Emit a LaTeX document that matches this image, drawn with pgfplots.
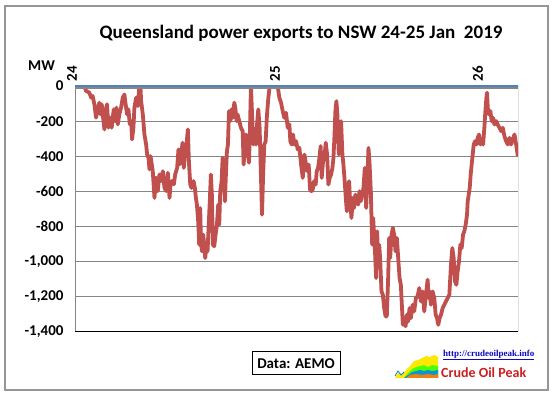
\documentclass[border=0pt]{standalone}
\usepackage{fontspec}
\setmainfont{Carlito}
\setmonofont{Liberation Serif}
\usepackage{pgfplots}
\pgfplotsset{compat=1.18}
\definecolor{linered}{RGB}{192,80,77}
\definecolor{gridgray}{RGB}{134,134,134}
\definecolor{axblue}{RGB}{79,129,189}
\definecolor{framegray}{RGB}{150,150,150}
\definecolor{logored}{RGB}{204,30,30}
\definecolor{urlblue}{RGB}{10,10,190}
\begin{document}
\begin{tikzpicture}[x=1pt,y=1pt]
\begin{axis}[
  name=ax, anchor=south west, scale only axis,
  width=443pt, height=246pt,
  xmin=0, xmax=52.4, ymin=-1400, ymax=0,
  xtick={0,24,48}, xticklabels={24,25,26}, xticklabel pos=right,
  xticklabel style={rotate=90, anchor=west, font=\fontsize{15}{16}\selectfont\bfseries, yshift=3pt, xshift=1pt},
  ytick={-1400,-1200,-1000,-800,-600,-400,-200,0},
  yticklabels={{-1,400},{-1,200},{-1,000},-800,-600,-400,-200,0},
  yticklabel style={anchor=east, font=\fontsize{15}{16}\selectfont\bfseries, xshift=-8pt},
  major tick length=0pt,
  ymajorgrids, grid style={gridgray, line width=1pt},
  axis line style={draw=none},
  clip=true,
]
\addplot[linered, line width=3.8pt, line join=round] table {
0 0
1.11 0
1.30 -28
1.70 -38
1.90 -66
2.09 -57
2.29 -104
2.49 -180
2.69 -133
2.88 -95
3.00 -161
3.16 -104
3.28 -161
3.48 -247
3.59 -142
3.79 -104
3.95 -237
4.15 -180
4.34 -237
4.58 -133
4.74 -200
4.90 -123
5.06 -218
5.25 -161
5.45 -123
5.65 -66
5.85 -48
5.96 -95
6.16 -161
6.32 -133
6.48 -218
6.64 -200
6.75 -304
6.91 -237
7.03 -123
7.23 -66
7.42 -114
7.62 0
7.74 0
7.82 -85
8.02 -161
8.21 -275
8.41 -332
8.53 -390
8.69 -408
8.81 -475
8.93 -399
9.08 -446
9.20 -485
9.40 -637
9.60 -522
9.79 -598
9.99 -503
10.19 -541
10.39 -485
10.58 -580
10.78 -598
10.98 -494
11.18 -637
11.30 -560
11.45 -541
11.69 -560
11.85 -503
12.08 -466
12.24 -361
12.40 -446
12.56 -390
12.72 -323
12.87 -466
13.03 -370
13.19 -332
13.35 -247
13.47 -428
13.63 -560
13.78 -580
14.02 -541
14.18 -580
14.30 -637
14.42 -675
14.57 -770
14.69 -903
14.81 -694
14.89 -865
15.01 -941
15.17 -846
15.28 -903
15.40 -979
15.52 -922
15.68 -941
15.80 -808
15.96 -637
16.07 -504
16.19 -618
16.31 -903
16.47 -912
16.63 -846
16.79 -789
16.94 -675
17.06 -789
17.18 -599
17.34 -542
17.46 -409
17.58 -447
17.73 -656
17.85 -504
17.97 -371
18.09 -333
18.21 -143
18.37 -200
18.52 -133
18.68 -181
18.84 -95
18.96 -124
19.12 -200
19.23 -162
19.43 -200
19.63 -238
19.83 -257
19.95 -447
20.10 -333
20.22 -276
20.42 -371
20.58 -437
20.70 -238
20.81 0
20.93 -143
21.09 -333
21.29 -295
21.41 -333
21.53 -219
21.68 -133
21.84 -238
22.00 -523
22.12 -732
22.24 -523
22.39 -333
22.55 -314
22.71 -162
22.87 -67
23.03 0
23.97 0
24.17 -67
24.37 -95
24.57 -143
24.76 -181
24.96 -152
25.16 -238
25.36 -219
25.47 -314
25.63 -333
25.79 -276
25.95 -333
26.15 -314
26.34 -361
26.54 -352
26.74 -447
26.94 -523
27.13 -390
27.33 -447
27.48 -485
27.64 -447
27.80 -589
27.96 -599
28.12 -589
28.27 -542
28.47 -561
28.59 -485
28.75 -466
28.91 -409
29.06 -342
29.18 -523
29.34 -428
29.50 -409
29.66 -323
29.82 -390
29.97 -561
30.13 -523
30.29 -504
30.45 -466
30.57 -409
30.68 -295
30.80 -143
30.92 -86
31.04 -162
31.20 -390
31.36 -295
31.47 -200
31.63 -390
31.75 -447
31.87 -523
32.03 -637
32.15 -713
32.30 -580
32.42 -542
32.54 -656
32.70 -751
32.86 -637
33.01 -694
33.17 -618
33.33 -656
33.49 -675
33.65 -599
33.80 -656
33.96 -618
34.12 -580
34.28 -466
34.44 -694
34.59 -523
34.71 -352
34.83 -428
34.99 -599
35.15 -903
35.27 -751
35.38 -846
35.50 -960
35.62 -1093
35.74 -827
35.86 -1017
35.98 -903
36.09 -979
36.25 -1169
36.41 -1188
36.57 -1264
36.73 -1311
36.88 -1311
37.04 -1093
37.16 -865
37.28 -979
37.44 -846
37.60 -808
37.75 -846
37.91 -941
38.07 -865
38.23 -979
38.39 -1093
38.54 -1131
38.66 -1245
38.78 -1359
38.94 -1321
39.10 -1368
39.25 -1302
39.41 -1340
39.57 -1264
39.73 -1321
39.93 -1245
40.12 -1283
40.32 -1207
40.52 -1197
40.72 -1150
40.92 -1226
41.12 -1169
41.31 -1283
41.51 -1188
41.71 -1102
41.83 -1207
41.95 -1169
42.10 -1245
42.30 -1169
42.50 -1207
42.66 -1302
42.82 -1321
42.97 -1359
43.13 -1321
43.29 -1302
43.49 -1264
43.68 -1245
43.88 -1226
44.08 -1207
44.28 -1188
44.47 -1017
44.63 -922
44.79 -979
44.95 -1112
45.11 -1131
45.26 -1055
45.42 -998
45.58 -903
45.74 -922
45.90 -846
46.05 -827
46.21 -789
46.37 -732
46.45 -656
46.57 -618
46.69 -580
46.80 -504
46.92 -447
47.04 -390
47.16 -333
47.32 -314
47.48 -333
47.63 -295
47.79 -276
47.95 -333
48.11 -314
48.27 -333
48.42 -238
48.54 -143
48.66 -67
48.74 -38
48.82 -124
48.98 -162
49.13 -143
49.29 -200
49.45 -181
49.61 -219
49.81 -200
50.00 -219
50.20 -238
50.40 -257
50.60 -238
50.79 -285
50.99 -314
51.19 -333
51.39 -295
51.58 -333
51.78 -304
51.98 -276
52.18 -333
52.38 -400
};
\draw[gridgray, line width=1pt] (rel axis cs:0,0) -- (rel axis cs:0,1);
\draw[black, line width=1pt] (rel axis cs:0,0) -- (rel axis cs:1,0) -- (rel axis cs:1,1);
\draw[gridgray, line width=2pt] ([yshift=-2pt]rel axis cs:0,1) -- ([yshift=-2pt]rel axis cs:1,1);
\draw[axblue, line width=2.5pt] ([yshift=0.5pt]rel axis cs:0,1) -- ([yshift=0.5pt]rel axis cs:1,1);
\end{axis}
\begin{scope}[shift={(ax.south west)}]
\begin{scope}[shift={(-75,-63)}]
\path[use as bounding box] (0,0) rectangle (553,395);
\draw[framegray, line width=1.5pt] (5,5) rectangle (548,389);
\node[font=\fontsize{19}{21}\selectfont\bfseries] at (301,362) {Queensland power exports to NSW 24-25 Jan\ \ 2019};
\node[font=\fontsize{15}{16}\selectfont\bfseries] at (41.5,329) {MW};
\node[draw=black, line width=1pt, minimum width=88pt, minimum height=23pt, inner sep=0pt, font=\fontsize{15}{16}\selectfont\bfseries] at (296,31.5) {Data: AEMO};
% logo
\fill[yellow!90!orange] (395,17) -- (398,22) -- (402,20) -- (406,25) -- (410,29) -- (414,34) -- (418,35) -- (422,37) -- (426,39) -- (430,38) -- (434,40) -- (438,38) -- (438,17) -- cycle;
\fill[green!70!yellow] (404,17) -- (408,22) -- (412,26) -- (416,28) -- (420,29) -- (424,30) -- (428,28) -- (432,30) -- (438,29) -- (438,17) -- cycle;
\fill[cyan!80!blue] (404,17) -- (408,20) -- (412,23) -- (416,24) -- (420,25) -- (424,24) -- (428,25) -- (432,24) -- (438,25) -- (438,17) -- cycle;
\fill[orange!80!brown] (406,17) -- (410,20) -- (416,21) -- (422,20) -- (428,21) -- (434,20) -- (438,21) -- (438,17) -- cycle;
\draw[cyan!60!blue, line width=0.8pt] (395,19) -- (398,24) -- (401,20) -- (404,23);
\node[anchor=west, inner sep=0pt, text=urlblue, font=\ttfamily\fontsize{9}{10}\selectfont\bfseries] at (443,40) {\underline{http://crudeoilpeak.info}};
\node[anchor=west, inner sep=0pt, text=logored, font=\fontsize{14}{15}\selectfont\bfseries] at (441,22) {Crude Oil Peak};
\end{scope}
\end{scope}
\end{tikzpicture}
\end{document}
